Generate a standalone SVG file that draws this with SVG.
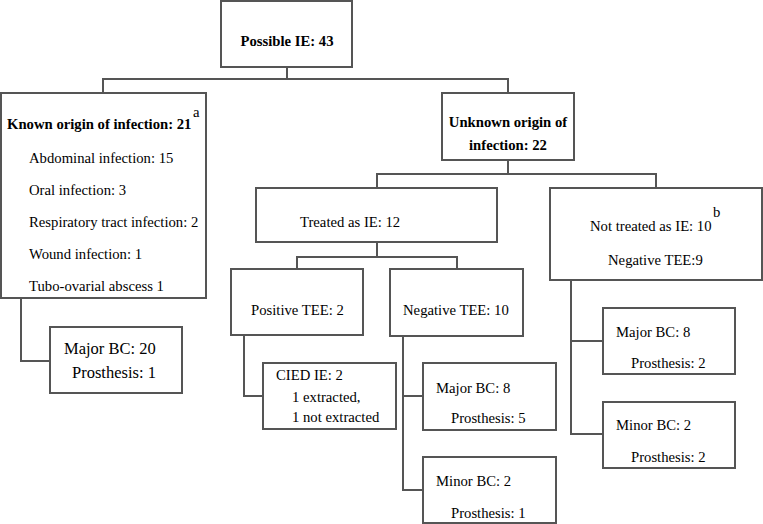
<svg xmlns="http://www.w3.org/2000/svg" width="763" height="524" viewBox="0 0 763 524">
<style>
.box{fill:#fff;stroke:#555;stroke-width:2}
.conn{fill:none;stroke:#555;stroke-width:2}
.t{font-family:"Liberation Serif","Times New Roman",Tinos,"DejaVu Serif",serif;font-size:14.7px;fill:#000}
.b{font-weight:bold}
.c{text-anchor:middle}
.big{font-size:16.5px}
</style>
<rect width="763" height="524" fill="#fff"/>
<g id="connectors">
<polyline class="conn" points="287,67 287,79"/>
<polyline class="conn" points="103,93 103,79 508,79 508,93"/>
<polyline class="conn" points="508,160 508,174"/>
<polyline class="conn" points="377,188 377,174 656,174 656,188"/>
<polyline class="conn" points="377,242 377,257"/>
<polyline class="conn" points="297,269 297,257 457,257 457,269"/>
<polyline class="conn" points="21,298 21,361 50,361"/>
<polyline class="conn" points="244,335 244,396 263,396"/>
<polyline class="conn" points="403,336 403,490 423,490"/>
<polyline class="conn" points="403,396 423,396"/>
<polyline class="conn" points="571,280 571,434 603,434"/>
<polyline class="conn" points="571,341 603,341"/>
</g>
<g id="possible-ie" class="t">
<rect class="box" x="221" y="1" width="131" height="66"/>
<text class="b c" x="287" y="46">Possible IE: 43</text>
</g>
<g id="known-origin" class="t">
<rect class="box" x="1" y="93" width="205" height="205"/>
<text class="b" x="7" y="129">Known origin of infection: 21</text>
<text x="193" y="117">a</text>
<text x="29" y="163">Abdominal infection: 15</text>
<text x="29" y="195">Oral infection: 3</text>
<text x="29" y="227">Respiratory tract infection: 2</text>
<text x="29" y="259">Wound infection: 1</text>
<text x="29" y="291">Tubo-ovarial abscess 1</text>
</g>
<g id="known-major-bc" class="t">
<rect class="box" x="50" y="327" width="132" height="66"/>
<text class="big" x="64" y="354">Major BC: 20</text>
<text class="big" x="72" y="378">Prosthesis: 1</text>
</g>
<g id="unknown-origin" class="t">
<rect class="box" x="442" y="93" width="132" height="67"/>
<text class="b c" x="508" y="127">Unknown origin of</text>
<text class="b c" x="508" y="150">infection: 22</text>
</g>
<g id="treated" class="t">
<rect class="box" x="256" y="188" width="241" height="54"/>
<text x="300" y="227">Treated as IE: 12</text>
</g>
<g id="not-treated" class="t">
<rect class="box" x="550" y="188" width="212" height="92"/>
<text x="590" y="231">Not treated as IE: 10</text>
<text x="713" y="217">b</text>
<text x="608" y="265">Negative TEE:9</text>
</g>
<g id="positive-tee" class="t">
<rect class="box" x="231" y="269" width="132" height="66"/>
<text x="251" y="315">Positive TEE: 2</text>
</g>
<g id="negative-tee" class="t">
<rect class="box" x="390" y="269" width="133" height="67"/>
<text x="403" y="315">Negative TEE: 10</text>
</g>
<g id="cied-ie" class="t">
<rect class="box" x="263" y="363" width="133" height="66"/>
<text x="276" y="380">CIED IE: 2</text>
<text x="292" y="402">1 extracted,</text>
<text x="292" y="422">1 not extracted</text>
</g>
<g id="neg-major-bc" class="t">
<rect class="box" x="423" y="363" width="133" height="67"/>
<text x="436" y="393">Major BC: 8</text>
<text x="451" y="423">Prosthesis: 5</text>
</g>
<g id="neg-minor-bc" class="t">
<rect class="box" x="423" y="457" width="133" height="66"/>
<text x="436" y="486">Minor BC: 2</text>
<text x="451" y="518">Prosthesis: 1</text>
</g>
<g id="nt-major-bc" class="t">
<rect class="box" x="603" y="308" width="132" height="66"/>
<text x="616" y="337">Major BC: 8</text>
<text x="631" y="368">Prosthesis: 2</text>
</g>
<g id="nt-minor-bc" class="t">
<rect class="box" x="603" y="402" width="132" height="66"/>
<text x="616" y="430">Minor BC: 2</text>
<text x="631" y="462">Prosthesis: 2</text>
</g>
</svg>
